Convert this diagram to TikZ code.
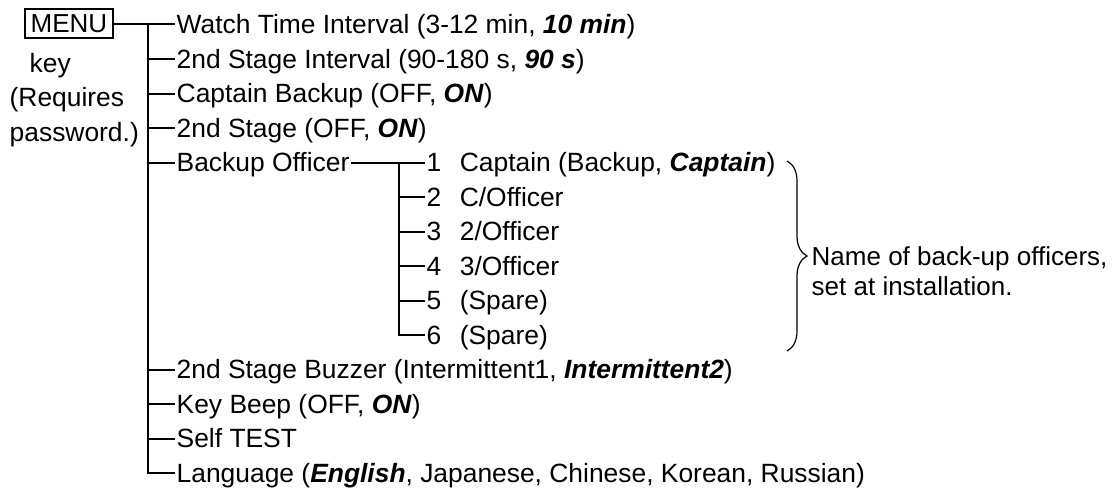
\documentclass[tikz,border=0pt]{standalone}
\usepackage{fontspec}
\setmainfont{Liberation Sans}
\usepackage{tikz}
\usetikzlibrary{positioning,decorations.pathreplacing}
\newcommand{\defval}[1]{\textbf{\textit{#1}}}

\begin{document}
\begin{tikzpicture}[x=1pt,y=-1pt,node distance=34.5pt]
  \tikzstyle{item}=[inner xsep=1.5pt,inner ysep=0pt,anchor=west,
    text height=18.8pt,text depth=0pt,font=\fontsize{26.4}{31}\selectfont]
  \tikzstyle{keybox}=[draw,line width=1.6pt,inner sep=0pt,
    minimum width=88pt,minimum height=29pt,
    text height=18.8pt,text depth=0pt,font=\fontsize{26}{31}\selectfont]
  \tikzstyle{tree}=[line width=2pt]
  \tikzstyle{officerbrace}=[decorate,decoration={brace,amplitude=20pt},line width=1.2pt]
  \useasboundingbox (0,0) rectangle (1116,490);
  % menu key and its remark
  \node[keybox] (menu) at (69,23.5) {MENU};
  \node[item] (keytxt) at (28,63) {key};
  \node[item,below=of keytxt.west,anchor=west,xshift=-20pt] (req) {(Requires};
  \node[item,below=of req.west,anchor=west] (pwd) {password.)};
  % first level
  \node[item] (w1) at (175,24.5) {Watch Time Interval (3-12 min, \defval{10 min})};
  \node[item,below=of w1.west,anchor=west] (w2) {2nd Stage Interval (90-180 s, \defval{90 s})};
  \node[item,below=of w2.west,anchor=west] (w3) {Captain Backup (OFF, \defval{ON})};
  \node[item,below=of w3.west,anchor=west] (w4) {2nd Stage (OFF, \defval{ON})};
  \node[item,below=of w4.west,anchor=west] (bo) {Backup Officer};
  \node[item,below=207pt of bo.west,anchor=west] (buzz) {2nd Stage Buzzer (Intermittent1, \defval{Intermittent2})};
  \node[item,below=of buzz.west,anchor=west] (beep) {Key Beep (OFF, \defval{ON})};
  \node[item,below=of beep.west,anchor=west] (test) {Self TEST};
  \node[item,below=of test.west,anchor=west] (lang) {Language (\defval{English}, Japanese, Chinese, Korean, Russian)};
  % backup officers
  \node[item] (c1) at (425,162.5) {1\hspace{0.7em}Captain (Backup, \defval{Captain})};
  \node[item,below=of c1.west,anchor=west] (c2) {2\hspace{0.7em}C/Officer};
  \node[item,below=of c2.west,anchor=west] (c3) {3\hspace{0.7em}2/Officer};
  \node[item,below=of c3.west,anchor=west] (c4) {4\hspace{0.7em}3/Officer};
  \node[item,below=of c4.west,anchor=west] (c5) {5\hspace{0.7em}(Spare)};
  \node[item,below=of c5.west,anchor=west] (c6) {6\hspace{0.7em}(Spare)};
  % tree lines
  \coordinate[left=27pt of w1.west] (trunk);
  \coordinate[left=26pt of c1.west] (subtrunk);
  \draw[tree] (menu.east) -- (menu.east -| w1.west);
  \draw[tree] (trunk) |- (lang.west);
  \draw[tree] (trunk |- w2.west) -- (w2.west);
  \draw[tree] (trunk |- w3.west) -- (w3.west);
  \draw[tree] (trunk |- w4.west) -- (w4.west);
  \draw[tree] (trunk |- bo.west) -- (bo.west);
  \draw[tree] (trunk |- buzz.west) -- (buzz.west);
  \draw[tree] (trunk |- beep.west) -- (beep.west);
  \draw[tree] (trunk |- test.west) -- (test.west);
  \draw[tree] (bo) -- (c1);
  \draw[tree] (subtrunk) |- (c6.west);
  \draw[tree] (subtrunk |- c2.west) -- (c2.west);
  \draw[tree] (subtrunk |- c3.west) -- (c3.west);
  \draw[tree] (subtrunk |- c4.west) -- (c4.west);
  \draw[tree] (subtrunk |- c5.west) -- (c5.west);
  % note on the officer names
  \coordinate (btop) at (787,161);
  \coordinate (bbot) at (787,351);
  \draw[officerbrace] (btop) -- (bbot);
  \node[item,font=\fontsize{26}{31}\selectfont] (note1) at (810,256.5) {Name of back-up officers,};
  \node[item,font=\fontsize{26}{31}\selectfont,below=30pt of note1.west,anchor=west] (note2) {set at installation.};
\end{tikzpicture}
\end{document}
